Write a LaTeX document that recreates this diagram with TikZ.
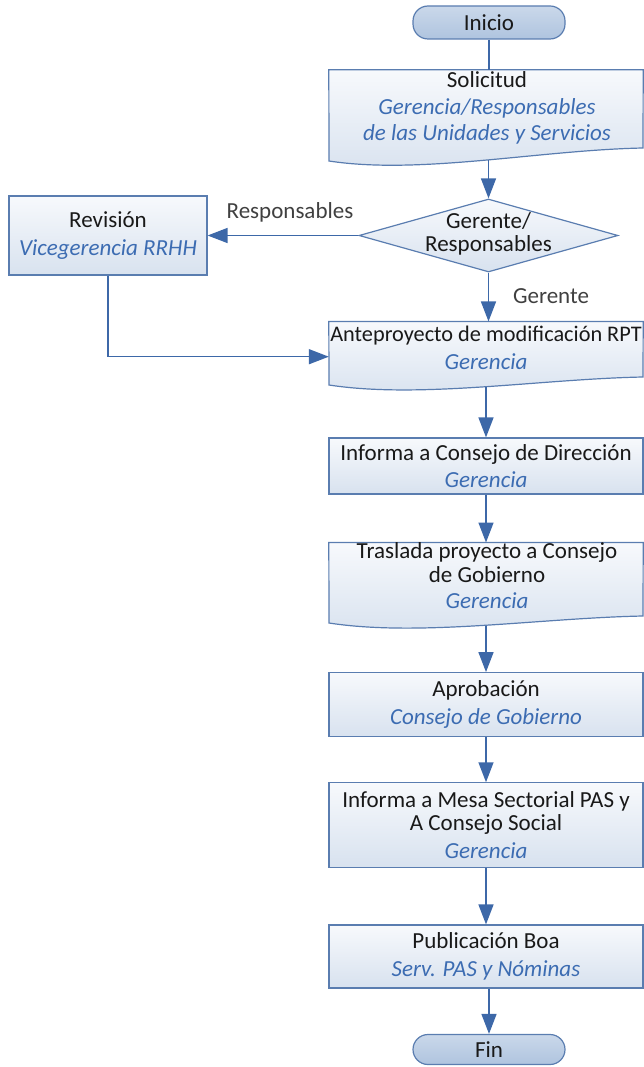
\documentclass[tikz,border=0pt]{standalone}
\usepackage{fontspec}
\setmainfont{Carlito}
\usetikzlibrary{arrows.meta,calc,shapes.geometric}
\definecolor{edgec}{HTML}{5A7DB0}
\definecolor{arrc}{HTML}{3D68A8}
\definecolor{itc}{HTML}{3C6CB2}
\definecolor{boxtop}{HTML}{F7F9FC}
\definecolor{boxbot}{HTML}{D8E2EF}
\definecolor{termtop}{HTML}{CAD8EA}
\definecolor{termbot}{HTML}{AFC4DF}
\definecolor{lblc}{HTML}{404040}
\newcommand{\rol}[1]{{\itshape\color{itc}#1}}
\begin{document}
\begin{tikzpicture}[x=1pt,y=-1pt,
  fnt/.style={font=\fontsize{23}{23.5}\selectfont},
  txt/.style={fnt, align=center, inner sep=0pt, text=black!90},
  procbox/.style={txt, rectangle, draw=edgec, line width=1.2pt, top color=boxtop, bottom color=boxbot, minimum width=314pt},
  ghost/.style={rectangle, draw=none, inner sep=0pt, minimum width=314pt},
  docshape/.style={draw=edgec, line width=1.2pt, top color=boxtop, bottom color=boxbot},
  term/.style={txt, rectangle, rounded corners=15pt, draw=edgec, line width=1.2pt, top color=termtop, bottom color=termbot, minimum width=152pt},
  conn/.style={draw=arrc, line width=1.5pt},
  arr/.style={conn, -{Triangle[length=20pt,width=15pt]}},
  lbl/.style={fnt, text=lblc, inner sep=0pt}
]
\useasboundingbox (0,0) rectangle (644,1067);

% start
\node[term, minimum height=33pt] (ini) at (489,22.5) {Inicio};

% Solicitud (document)
\node[ghost, minimum height=90pt] (sol) at (486,115) {};
\path[docshape] (sol.north west) -- (sol.north east) -- (643,148) .. controls (540,150) and (420,175) .. (329,161) -- cycle;
\node[txt] (solt) at (487,107.5) {Solicitud\\[4pt]\rol{Gerencia/Responsables}\\[2pt]\rol{de las Unidades y Servicios}};

% decision
\node[diamond, draw=edgec, line width=1.2pt, top color=boxtop, bottom color=boxbot, minimum width=259pt, minimum height=73pt, inner sep=0pt] (dia) at (488.5,235.5) {};
\node[txt] (diat) at (488.5,234) {Gerente/\\Responsables};

% Revision
\node[procbox, minimum width=198pt, minimum height=79pt] (rev) at (108,235.5) {Revisión\\[4pt]\rol{Vicegerencia RRHH}};

% Anteproyecto (document)
\node[ghost, minimum height=65.3pt] (ante) at (486,354.3) {};
\path[docshape] (ante.north west) -- (ante.north east) -- (643,377) .. controls (540,379) and (420,399) .. (329,385) -- cycle;
\node[txt] (antet) at (486,348) {{\fontsize{22.3}{23.5}\selectfont Anteproyecto de modificación RPT}\\[4pt]\rol{Gerencia}};

% Informa CD
\node[procbox, minimum height=56pt] (inf1) at (486,466) {Informa a Consejo de Dirección\\[4pt]\rol{Gerencia}};

% Traslada (document)
\node[ghost, minimum height=82.8pt] (tras) at (486,584.1) {};
\path[docshape] (tras.north west) -- (tras.north east) -- (643,616) .. controls (540,618) and (420,637) .. (329,623) -- cycle;
\node[txt] (trast) at (487,576) {Traslada proyecto a Consejo\\de Gobierno\\[3pt]\rol{Gerencia}};

% Aprobacion
\node[procbox, minimum height=64pt] (apr) at (486,704.7) {Aprobación\\[4pt]\rol{Consejo de Gobierno}};

% Informa Mesa
\node[procbox, minimum height=84.3pt] (mesa) at (486,825) {Informa a Mesa Sectorial PAS y\\A Consejo Social\\[4pt]\rol{Gerencia}};

% Publicacion
\node[procbox, minimum height=63pt] (pub) at (486,956.5) {Publicación Boa\\[4pt]\rol{Serv. PAS y Nóminas}};

% end
\node[term, minimum height=30pt] (fin) at (489,1049.5) {Fin};

% labels
\node[lbl] (lr) at (290,212) {Responsables};
\node[lbl] (lg) at (551,296) {Gerente};

% connectors
\draw[conn] (ini.south) -- (ini.south |- sol.north);
\draw[arr] (dia.north |- sol.south) -- (dia.north);
\draw[arr] (dia.west) -- (rev.east);
\draw[arr] (dia.south) -- (dia.south |- ante.north);
\draw[arr] (rev.south) |- ([yshift=-2.4pt]ante.west);
\draw[arr] (ante.south) -- (inf1.north);
\draw[arr] (inf1) -- (tras);
\draw[arr] (tras) -- (apr);
\draw[arr] (apr) -- (mesa);
\draw[arr] (mesa) -- (pub);
\draw[arr] (fin.north |- pub.south) -- (fin.north);
\end{tikzpicture}
\end{document}
